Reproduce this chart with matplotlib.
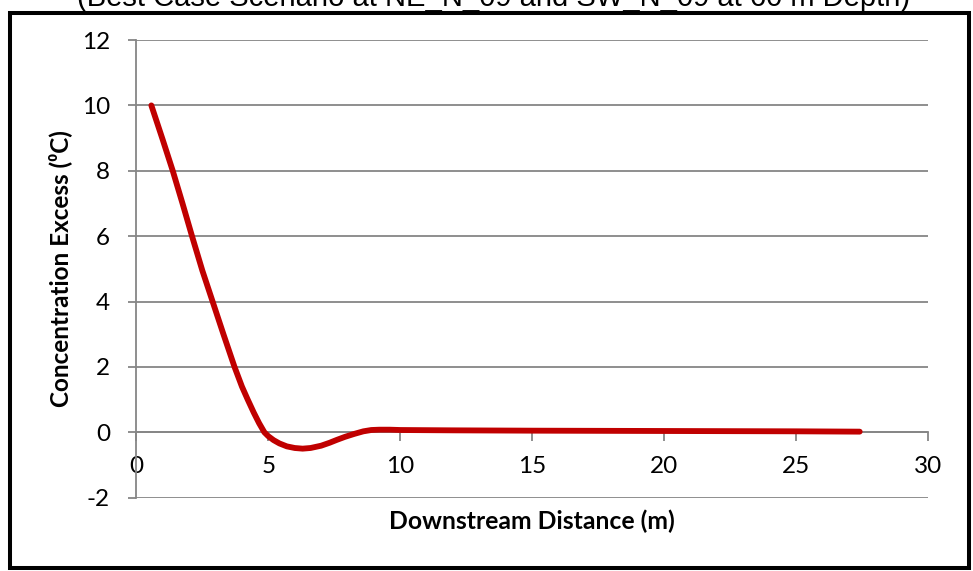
import matplotlib
matplotlib.use("Agg")
import matplotlib.pyplot as plt
from matplotlib.patches import Rectangle

plt.rcParams["axes.unicode_minus"] = False

# values
distance = [0.57, 1.0, 1.38, 1.75, 2.11, 2.5, 2.89, 3.3, 3.72, 4.0, 4.22, 4.45,
            4.65, 4.85, 5.0, 5.2, 5.42, 5.7, 6.0, 6.3, 6.6, 7.0, 7.32, 7.6,
            7.9, 8.25, 8.6, 8.9, 9.2, 9.6, 10.0, 12.0, 15.0, 20.0, 25.0, 27.4]
excess = [10.0, 8.95, 8.0, 7.0, 6.0, 4.95, 4.0, 3.0, 2.0, 1.4, 1.0, 0.6,
          0.28, 0.0, -0.12, -0.24, -0.34, -0.43, -0.48, -0.5, -0.48, -0.41, -0.32, -0.23,
          -0.14, -0.05, 0.03, 0.07, 0.08, 0.08, 0.07, 0.06, 0.05, 0.04, 0.03, 0.02]

x_ticks = [0, 5, 10, 15, 20, 25, 30]
y_ticks = [-2, 0, 2, 4, 6, 8, 10, 12]

title = "(Best Case Scenario at NE_N_09 and SW_N_09 at 60 m Depth)"
xlabel = "Downstream Distance (m)"
ylabel = "Concentration Excess (\u2070C)"

FONT = ["Lato", "DejaVu Sans"]
GRID = "#868686"

fig = plt.figure(figsize=(9.73, 5.71), dpi=100)
ax = fig.add_axes([0.1401, 0.1284, 0.9541 - 0.1401, 0.9299 - 0.1284])

ax.plot(distance, excess, color="#C00000", lw=4.2, solid_capstyle="round",
        solid_joinstyle="round", zorder=3)

ax.set_xlim(0, 30)
ax.set_ylim(-2, 12)
ax.set_xticks(x_ticks)
ax.set_yticks(y_ticks)

for s in ("top", "right"):
    ax.spines[s].set_visible(False)
ax.spines["bottom"].set_position(("data", 0))
ax.spines["bottom"].set_color(GRID)
ax.spines["left"].set_color(GRID)
ax.spines["bottom"].set_linewidth(1.3)
ax.spines["left"].set_linewidth(1.3)

ax.yaxis.grid(True, color=GRID, lw=1.3)
ax.set_axisbelow(True)

ax.tick_params(axis="x", direction="out", length=6.2, width=1.3, color=GRID,
               pad=11, labelsize=17.5)
ax.tick_params(axis="y", direction="out", length=6.0, width=1.3, color=GRID,
               pad=13, labelsize=17.5)
for lab in ax.get_xticklabels() + ax.get_yticklabels():
    lab.set_family(FONT)

ax.set_xlabel(xlabel, family=FONT, fontweight="bold", fontsize=17.8)
ax.xaxis.set_label_coords(0.5, -0.051)
ax.xaxis.label.set_va("center")
ax.set_ylabel(ylabel, family=FONT, fontweight="bold", fontsize=17.5)
ax.yaxis.set_label_coords(-0.0963, 0.5)
ax.yaxis.label.set_va("center")

fig.text(0.507, 0.990, title, family=["Liberation Sans", "DejaVu Sans"],
         fontsize=21, ha="center", va="baseline")

fig.patches.append(Rectangle((0.01028, 0.00438), 0.9856, 0.972,
                             transform=fig.transFigure, fill=False,
                             edgecolor="black", lw=2.9, zorder=10))

fig.savefig("out.png", dpi=100)
